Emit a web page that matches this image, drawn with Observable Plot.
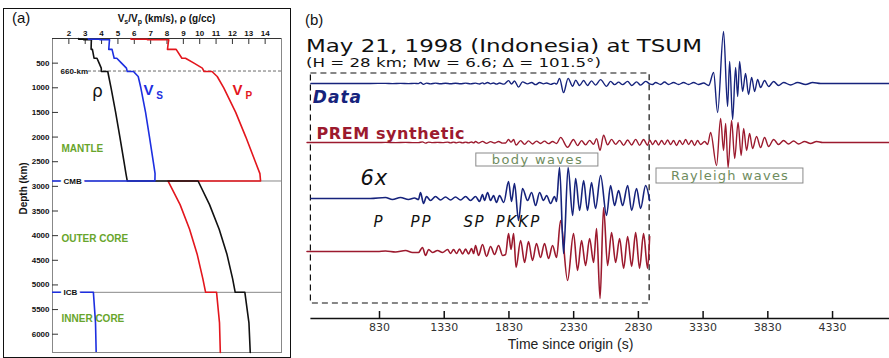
<!DOCTYPE html>
<html><head><meta charset="utf-8">
<script src="https://cdn.jsdelivr.net/npm/d3@7"></script>
<script src="https://cdn.jsdelivr.net/npm/@observablehq/plot@0.6"></script>
<style>
body{margin:0;background:#fff;}
#wrap{position:relative;width:889px;height:358px;overflow:hidden;font-family:"Liberation Sans",Arial,sans-serif;color:#111;}
.abs{position:absolute;white-space:nowrap;}
#frameA{position:absolute;left:3px;top:8px;width:286px;height:348px;border:1.5px solid #111;}
sub{font-size:7px;vertical-align:-2px;line-height:0;}
</style></head><body>
<div id="wrap">
  <div id="frameA"></div>
  <div id="panelA" class="abs" style="left:0;top:0"></div>
  <div id="panelB" class="abs" style="left:292px;top:0"></div>
  <div class="abs" style="left:12px;top:10px;font-size:15px;line-height:15px;">(a)</div>
  <div class="abs" style="left:52px;width:229px;top:14px;text-align:center;font-size:10px;line-height:10px;font-weight:bold;">V<sub>s</sub>/V<sub>p</sub> (km/s), ρ (g/cc)</div>
  <div class="abs" style="left:305px;top:12px;font-size:15px;line-height:15px;">(b)</div>
  <div class="abs" style="left:306px;top:38px;font-family:'DejaVu Sans';font-size:17px;line-height:16px;transform:scaleX(1.35);transform-origin:0 0;">May 21, 1998 (Indonesia) at TSUM</div>
  <div class="abs" style="left:306px;top:56px;font-family:'DejaVu Sans';font-size:13px;line-height:13px;transform:scaleX(1.28);transform-origin:0 0;">(H = 28 km; Mw = 6.6; Δ = 101.5°)</div>
</div>
<script>
// ---------- Panel (a): PREM profiles ----------
const depthKm = [0,15,15,24.4,24.4,80,220,220,400,400,500,600,670,670,771,1000,1500,2000,2500,2741,2891,2891,3371,3871,4371,4871,5150,5150,5771,6371];
const vpKms  = [5.80,5.80,6.80,6.80,8.11,8.08,8.03,8.56,8.91,9.13,9.65,10.16,10.27,10.75,11.07,11.47,12.20,12.82,13.40,13.68,13.72,8.06,8.80,9.38,9.84,10.19,10.36,11.03,11.21,11.26];
const vsKms  = [3.20,3.20,3.90,3.90,4.49,4.47,4.44,4.64,4.77,4.93,5.22,5.52,5.57,5.95,6.24,6.40,6.69,6.93,7.16,7.27,7.26,0,0,0,0,0,0,3.50,3.63,3.67];
const rhoGcc = [2.60,2.60,2.90,2.90,3.38,3.37,3.36,3.44,3.54,3.72,3.85,3.98,3.99,4.38,4.44,4.58,4.86,5.12,5.37,5.49,5.57,9.90,10.60,11.19,11.66,12.01,12.17,12.76,13.01,13.09];
const xTicksA = [2,3,4,5,6,7,8,9,10,11,12,13,14];
const yTicksA = [500,1000,1500,2000,2500,3000,3500,4000,4500,5000,5500,6000];
const boundariesKm = [2891, 5150];
const dashDepthKm = [660];

// ---------- Panel (b): seismograms ----------
const xTicksB = [830,1330,1830,2330,2830,3330,3830,4330];
const gainBody = 6;   // "6x" amplification of the body-wave window
const windowT = [300, 2917];
// Data, body-wave window (amplitude as drawn at 6x)
const dataBodyT = [300,760,876,930,992,1054,1100,1131,1147,1170,1193,1224,1263,1301,1340,1379,1417,1456,1495,1533,1572,1603,1626,1641,1665,1688,1711,1734,1757,1790,1827,1850,1873,1904,1935,1974,2005,2036,2067,2097,2121,2152,2182,2198,2221,2252,2287,2322,2345,2376,2407,2437,2468,2499,2538,2584,2615,2646,2677,2708,2747,2778,2816,2847,2886,2917];
const dataBodyA = [0,0,1,-1,1,-1,0.5,-1,6,-5,2,-2,2,-1.5,1.5,-1.5,1.5,-1.5,2,-2,2,-3,4,-2,6,-2,3,-4,3,-4,17,-3,15,-22,10,-2,6,-7,6,-2,3,-5,2,-3,31,-55,31,-17,20,-12,18,-12,16,-10,23,-17,13,-7,8,-7,13,-12,10,-10,13,-2];
// Data, after the window (amplitude at 1x)
const dataSurfT = [2940,2963,3002,3032,3063,3102,3141,3179,3218,3257,3295,3334,3373,3411,3442,3488,3519,3535,3558,3581,3597,3612,3635,3658,3681,3705,3728,3751,3774,3805,3836,3875,3913,3952,4006,4060,4122,4176,4238,4770];
const dataSurfA = [-1,1,-1,1.5,-1,1,-1,1,-1,1,-1,0.5,-2,11,-29,52,-23,22,-36,16,-13,22,-8,10,-11,6,-8,4,-4,3,-3,2,-2,1,-1.5,1,-1,1,0,0];
// PREM synthetic, body-wave window (amplitude as drawn at 6x)
const synBodyT = [270,815,876,954,1031,1085,1131,1162,1186,1209,1240,1278,1317,1356,1379,1402,1425,1448,1472,1495,1518,1541,1557,1572,1595,1626,1657,1688,1719,1750,1781,1804,1827,1846,1866,1885,1920,1951,1981,2012,2043,2074,2105,2136,2167,2198,2229,2283,2329,2360,2391,2422,2453,2484,2507,2534,2561,2592,2623,2654,2685,2716,2747,2778,2809,2839,2870,2901,2917];
const synBodyA = [0,0,0.5,-0.5,1,-1,-1,4,-4,2,-1,1,-1,2,-2,2,-2,2.5,-2.5,2.5,-2.5,3,-2,6,-4,7,-5,5,-3,6,-4,-3,18,2,18,-16,11,-11,10,-9,8,-6,8,-7,6,-6,31,-29,18,-19,11,-14,13,-11,23,-47,44,-14,19,-11,13,-17,15,-15,19,-17,18,-17,15];
// PREM synthetic, after the window (amplitude at 1x)
const synSurfT = [2940,2963,2986,3009,3032,3056,3079,3102,3125,3148,3172,3195,3218,3241,3264,3287,3311,3342,3365,3388,3434,3465,3488,3504,3523,3550,3574,3600,3624,3643,3666,3689,3712,3743,3774,3805,3836,3875,3913,3952,3990,4029,4068,4114,4160,4207,4253,4770];
const synSurfA = [-2,2,-2.5,2,-2,2.5,-2,2,-3,2,-2,3,-2,2,-3,2,-2,1,-2,10,-23,24,-8,19,-25,22,-16,20,-13,14,-8,9,-6,6,-5,5,-4,3,-2,2,-1.5,1.5,-1.5,1,-1,1,0,0];
const traceNames = ["Data", "PREM synthetic", "6x", "P", "PP", "SP", "PKKP"];

// colours
const cVp = "#e3161d", cVs = "#1d2fe0", cRho = "#111111";
const cData = "#16237c", cSyn = "#9c1a2e", cGreen = "#68a52c", cBox = "#6f8c5e";

// ---------- build panel (a) ----------
const profile = depthKm.map((d, i) => ({depth: d, vp: vpKms[i], vs: vsKms[i], rho: rhoGcc[i]}));
function lab(str, x, y, o) { return Plot.text([str], Object.assign({x: x, y: y, text: d => d}, o)); }
const chartA = Plot.plot({
  width: 292, height: 358, marginLeft: 52, marginRight: 11, marginTop: 38, marginBottom: 6,
  style: {background: "transparent", fontFamily: "Liberation Sans, Arial, sans-serif", fontSize: "8px", fontWeight: "bold", color: "#111", overflow: "visible"},
  x: {domain: [1, 15], axis: "top", ticks: xTicksA, tickSize: 0, tickPadding: 3, tickFormat: d => String(d), label: null},
  y: {domain: [0, 6371], reverse: true, ticks: yTicksA, tickSize: 0, tickPadding: 3, tickFormat: d => String(d), label: null},
  marks: [
    Plot.frame({stroke: "#888"}),
    Plot.ruleY([0], {stroke: "#333"}),
    Plot.ruleX(xTicksA, {insetBottom: 308, stroke: "#333"}),
    Plot.ruleY(yTicksA, {insetRight: 223, stroke: "#333"}),
    Plot.ruleY(boundariesKm, {stroke: "#888"}),
    Plot.ruleY(dashDepthKm, {x1: 3.2, x2: 15, stroke: "#444", strokeDasharray: "3,2", strokeWidth: 0.8}),
    Plot.line(profile, {x: "vp", y: "depth", stroke: cVp, strokeWidth: 1.6}),
    Plot.line(profile, {x: "rho", y: "depth", stroke: cRho, strokeWidth: 1.6}),
    Plot.line(profile, {x: "vs", y: "depth", stroke: cVs, strokeWidth: 1.6, clip: true}),
    lab("CMB", 1.67, 2891, {textAnchor: "start", fill: "white", stroke: "white", strokeWidth: 6, fontSize: 8, fontWeight: "bold"}),
    lab("ICB", 1.67, 5150, {textAnchor: "start", fill: "white", stroke: "white", strokeWidth: 6, fontSize: 8, fontWeight: "bold"}),
    lab("CMB", 1.67, 2891, {textAnchor: "start", fill: "#111", fontSize: 8, fontWeight: "bold"}),
    lab("ICB", 1.67, 5150, {textAnchor: "start", fill: "#111", fontSize: 8, fontWeight: "bold"}),
    lab("660-km", 1.49, 660, {textAnchor: "start", fill: "#111", fontSize: 8, fontWeight: "bold"}),
    lab("MANTLE", 1.55, 2232, {textAnchor: "start", fill: cGreen, fontSize: 10, fontWeight: "bold"}),
    lab("OUTER CORE", 1.55, 4058, {textAnchor: "start", fill: cGreen, fontSize: 10, fontWeight: "bold"}),
    lab("INNER CORE", 1.55, 5681, {textAnchor: "start", fill: cGreen, fontSize: 10, fontWeight: "bold"}),
    lab("ρ", 3.75, 1075, {fill: "#111", fontSize: 17, fontWeight: "normal", fontFamily: "DejaVu Sans"}),
    lab("V", 6.87, 1055, {fill: cVs, fontSize: 15, fontWeight: "bold"}),
    lab("S", 7.55, 1170, {fill: cVs, fontSize: 10, fontWeight: "bold"}),
    lab("V", 12.31, 1055, {fill: cVp, fontSize: 15, fontWeight: "bold"}),
    lab("P", 13.0, 1170, {fill: cVp, fontSize: 10, fontWeight: "bold"}),
    lab("Depth (km)", 1, 3043, {dx: -29, rotate: -90, fill: "#111", fontSize: 10, fontWeight: "bold"})
  ]
});
document.getElementById("panelA").appendChild(chartA);

// ---------- build panel (b) ----------
const offs = {data: 0, syn: -59, data6: -115, syn6: -168};
function trace(T, A, gain, off) { return T.map((t, i) => ({t: t, v: off + A[i] * gain})); }
const data1x = trace(dataBodyT, dataBodyA, 1 / gainBody, offs.data).concat(trace(dataSurfT, dataSurfA, 1, offs.data));
const syn1x = trace(synBodyT, synBodyA, 1 / gainBody, offs.syn).concat(trace(synSurfT, synSurfA, 1, offs.syn));
const data6x = trace(dataBodyT, dataBodyA, 1, offs.data6);
const syn6x = trace(synBodyT, synBodyA, 1, offs.syn6);
const yBottom = -235;
const txtB = {fontFamily: "DejaVu Sans"};
function labB(str, x, y, o) { return Plot.text([str], Object.assign({x: x, y: y, text: d => d}, txtB, o)); }
const chartB = Plot.plot({
  width: 597, height: 358, marginLeft: 18.4, marginRight: 0, marginTop: 0, marginBottom: 40,
  style: {background: "transparent", fontFamily: "DejaVu Sans, sans-serif", fontSize: "11px", color: "#333", overflow: "visible"},
  x: {domain: [300, 4770], ticks: xTicksB, tickSize: 0, tickPadding: 5, tickFormat: d => String(d), label: null},
  y: {domain: [yBottom, 83], axis: null},
  marks: [
    Plot.ruleY([yBottom], {stroke: "#111", strokeWidth: 1.5}),
    Plot.ruleX(xTicksB, {insetTop: 311, stroke: "#111", strokeWidth: 1.5}),
    Plot.rect([0], {x1: windowT[0], x2: windowT[1], y1: -220, y2: 10, fill: "none", stroke: "#111", strokeWidth: 1.2, strokeDasharray: "6,4"}),
    Plot.rect([0], {x1: 1578, x2: 2521, y1: -83, y2: -70, fill: "white", stroke: "#8a8a8a", strokeWidth: 1}),
    Plot.rect([0], {x1: 2970, x2: 4105, y1: -100, y2: -85, fill: "white", stroke: "#8a8a8a", strokeWidth: 1}),
    Plot.line(data1x, {x: "t", y: "v", stroke: cData, strokeWidth: 1.4, curve: "monotone-x"}),
    Plot.line(syn1x, {x: "t", y: "v", stroke: cSyn, strokeWidth: 1.4, curve: "monotone-x"}),
    Plot.line(syn6x, {x: "t", y: "v", stroke: cSyn, strokeWidth: 1.6, curve: "monotone-x"}),
    Plot.line(data6x, {x: "t", y: "v", stroke: cData, strokeWidth: 1.6, curve: "monotone-x"}),
    labB("body waves", 2050, -76.5, {fill: cBox, fontSize: 13}),
    labB("Rayleigh waves", 3538, -92.5, {fill: cBox, fontSize: 13}),
    labB(traceNames[0], 315, -14, {textAnchor: "start", fill: cData, fontSize: 17, fontWeight: "bold", fontStyle: "italic"}),
    labB(traceNames[1], 343, -50, {textAnchor: "start", fill: cSyn, fontSize: 16, fontWeight: "bold"}),
    labB(traceNames[2], 683, -95, {textAnchor: "start", fill: "#111", fontSize: 21, fontStyle: "italic"}),
    labB(traceNames[3], 783, -139, {textAnchor: "start", fill: "#111", fontSize: 15, fontStyle: "italic"}),
    labB(traceNames[4], 1070, -139, {textAnchor: "start", fill: "#111", fontSize: 15, fontStyle: "italic"}),
    labB(traceNames[5], 1479, -139, {textAnchor: "start", fill: "#111", fontSize: 15, fontStyle: "italic"}),
    labB(traceNames[6], 1726, -139, {textAnchor: "start", fill: "#111", fontSize: 15, fontStyle: "italic"}),
    Plot.text(["Time since origin (s)"], {x: 2306, y: yBottom, dy: 26, text: d => d, fill: "#222", fontSize: 14, fontFamily: "Liberation Sans, Arial, sans-serif"})
  ]
});
document.getElementById("panelB").appendChild(chartB);

// letter-spacing tweaks for wide original lettering
const spacing = {"PREM synthetic": 0.6, "body waves": 1.4, "Rayleigh waves": 1.2, "P": 2, "PP": 2, "SP": 1.5, "PKKP": 2, "6x": 1, "Data": 1};
d3.select(chartB).selectAll("text").each(function () {
  const s = spacing[this.textContent];
  if (s !== undefined) d3.select(this).attr("letter-spacing", s);
});
</script>
</body></html>
